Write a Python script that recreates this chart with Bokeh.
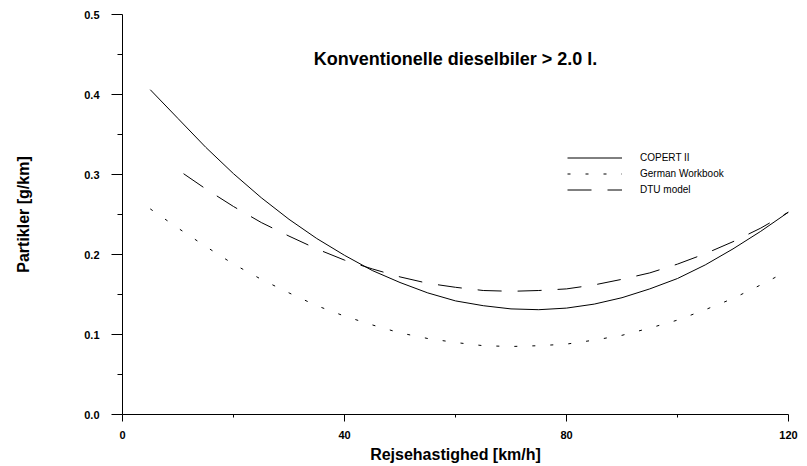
from bokeh.plotting import figure
from bokeh.models import Range1d, FixedTicker, NumeralTickFormatter, Legend, LegendItem, Label
from bokeh.embed import file_html
from bokeh.resources import INLINE

# ---- data ----
speed_copert = [5, 10, 15, 20, 25, 30, 35, 40, 45, 50, 55, 60, 65, 70, 75, 80, 85, 90, 95, 100, 105, 110, 115, 120]
copert_ii = [0.406, 0.370, 0.334, 0.301, 0.271, 0.244, 0.220, 0.199, 0.180, 0.165, 0.152, 0.142, 0.136, 0.132,
             0.131, 0.133, 0.138, 0.146, 0.157, 0.170, 0.187, 0.207, 0.229, 0.253]

speed_german = [5, 10, 15, 20, 25, 30, 35, 40, 45, 50, 55, 60, 65, 70, 75, 80, 85, 90, 95, 100, 105, 110, 115, 120]
german_workbook = [0.257, 0.233, 0.210, 0.188, 0.169, 0.152, 0.136, 0.123, 0.112, 0.102, 0.095, 0.090, 0.086, 0.085,
                   0.086, 0.088, 0.093, 0.099, 0.108, 0.118, 0.131, 0.145, 0.162, 0.180]

speed_dtu = [11, 15, 20, 25, 30, 35, 40, 45, 50, 55, 60, 65, 70, 75, 80, 85, 90, 95, 100, 105, 110, 115, 120]
dtu_model = [0.301, 0.282, 0.260, 0.240, 0.223, 0.207, 0.193, 0.182, 0.172, 0.164, 0.159, 0.155, 0.154,
             0.155, 0.157, 0.162, 0.169, 0.177, 0.188, 0.201, 0.216, 0.233, 0.253]

series_names = ["COPERT II", "German Workbook", "DTU model"]
x_major_ticks = [0, 40, 80, 120]
x_minor_ticks = [20, 60, 100]
y_major_ticks = [0.0, 0.1, 0.2, 0.3, 0.4, 0.5]
y_minor_ticks = [0.05, 0.15, 0.25, 0.35, 0.45]

title_text = "Konventionelle dieselbiler > 2.0 l."
x_title = "Rejsehastighed [km/h]"
y_title = "Partikler [g/km]"

FONT = "Liberation Sans"

p = figure(width=807, height=466, output_backend="svg", toolbar_location=None,
           x_range=Range1d(0, 120), y_range=Range1d(0, 0.5),
           min_border_left=122, min_border_right=19, min_border_top=14, min_border_bottom=52)
p.outline_line_color = None
p.xgrid.visible = False
p.ygrid.visible = False
p.background_fill_color = "white"
p.border_fill_color = "white"

r1 = p.line(speed_copert, copert_ii, line_color="black", line_width=1)
r2 = p.line(speed_german, german_workbook, line_color="black", line_width=1, line_dash="3 15")
r3 = p.line(speed_dtu, dtu_model, line_color="black", line_width=1, line_dash="24 16")

# axes
for ax in (p.xaxis[0], p.yaxis[0]):
    ax.axis_line_color = "black"
    ax.axis_line_width = 1
    ax.major_tick_line_color = "black"
    ax.minor_tick_line_color = "black"
    ax.major_tick_in = 0
    ax.minor_tick_in = 0
    ax.major_label_text_font = FONT
    ax.major_label_text_font_style = "bold"
    ax.major_label_text_font_size = "11px"
    ax.major_label_text_color = "black"
    ax.axis_label_text_font = FONT
    ax.axis_label_text_font_style = "bold"
    ax.axis_label_text_font_size = "16px"
    ax.axis_label_text_color = "black"

xa = p.xaxis[0]
xa.ticker = FixedTicker(ticks=x_major_ticks, minor_ticks=x_minor_ticks)
xa.major_tick_out = 7
xa.minor_tick_out = 3
xa.major_label_standoff = 9
xa.axis_label = x_title
xa.axis_label_standoff = 4

ya = p.yaxis[0]
ya.ticker = FixedTicker(ticks=y_major_ticks, minor_ticks=y_minor_ticks)
ya.formatter = NumeralTickFormatter(format="0.0")
ya.major_tick_out = 11
ya.minor_tick_out = 5
ya.major_label_standoff = 12
ya.axis_label = y_title
ya.axis_label_standoff = 49

# title inside the plot area
p.add_layout(Label(x=60, y=0.445, text=title_text, text_align="center", text_baseline="middle",
                   text_font=FONT, text_font_style="bold", text_font_size="18px", text_color="black"))

legend = Legend(items=[LegendItem(label=series_names[0], renderers=[r1]),
                       LegendItem(label=series_names[1], renderers=[r2]),
                       LegendItem(label=series_names[2], renderers=[r3])],
                location=(445, 217), orientation="vertical",
                glyph_width=55, glyph_height=15, label_height=15, label_standoff=18,
                spacing=1, padding=0, margin=0,
                border_line_color=None, background_fill_alpha=0,
                label_text_font=FONT, label_text_font_size="10px", label_text_color="black")
p.add_layout(legend)

open("out.html", "w").write(file_html(p, INLINE))
